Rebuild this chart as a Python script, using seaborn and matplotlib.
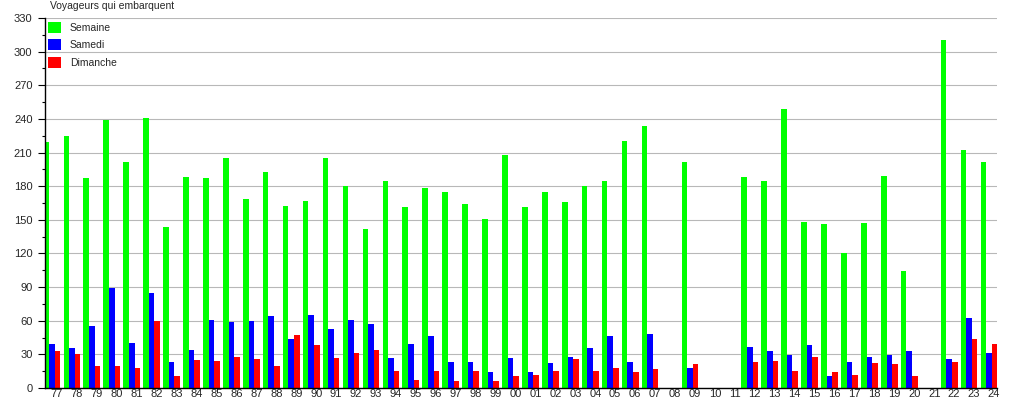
import matplotlib
matplotlib.use("Agg")
import matplotlib.pyplot as plt
import matplotlib.transforms as mtransforms
import numpy as np
import pandas as pd
import seaborn as sns

annees = ['77', '78', '79', '80', '81', '82', '83', '84', '85', '86', '87', '88',
          '89', '90', '91', '92', '93', '94', '95', '96', '97', '98', '99', '00',
          '01', '02', '03', '04', '05', '06', '07', '08', '09', '10', '11', '12',
          '13', '14', '15', '16', '17', '18', '19', '20', '21', '22', '23', '24']

semaine = [219, 225, 187, 239, 202, 241, 144, 188, 187, 205, 169, 193,
           162, 167, 205, 180, 142, 185, 161, 178, 175, 164, 151, 208,
           161, 175, 166, 180, 185, 220, 234, None, 202, None, None, 188,
           185, 249, 148, 146, 120, 147, 189, 104, None, 310, 212, 202]

samedi = [39, 36, 55, 89, 40, 85, 23, 34, 61, 59, 60, 64,
          44, 65, 53, 61, 57, 27, 39, 46, 23, 23, 14, 27,
          14, 22, 28, 36, 46, 23, 48, None, 18, None, None, 37,
          33, 29, 38, 11, 23, 28, 29, 33, None, 26, 62, 31]

dimanche = [33, 30, 20, 20, 18, 60, 11, 25, 24, 28, 26, 20,
            47, 38, 27, 31, 34, 15, 7, 15, 6, 15, 6, 11,
            12, 15, 26, 15, 18, 14, 17, None, 21, None, None, 23,
            24, 15, 28, 14, 12, 22, 21, 11, None, 23, 44, 39]

series = ['Semaine', 'Samedi', 'Dimanche']
couleurs = ['#00ff00', '#0000ff', '#ff0000']

rows = []
for nom, valeurs in zip(series, [semaine, samedi, dimanche]):
    for a, v in zip(annees, valeurs):
        if v is not None:
            rows.append({'annee': a, 'voyageurs': v, 'type': nom})
df = pd.DataFrame(rows)

sns.set_style("white")
plt.rcParams['font.family'] = ['Liberation Sans', 'DejaVu Sans']

fig = plt.figure(figsize=(10.15, 4.0), dpi=100)
W, H = 1015, 400
ax = fig.add_axes([45 / W, 12 / H, 952 / W, 370 / H])

sns.barplot(data=df, x='annee', y='voyageurs', hue='type', order=annees,
            hue_order=series, palette=couleurs, saturation=1, width=0.84,
            errorbar=None, linewidth=0, ax=ax)

ax.set_xlim(-0.35, 47.4)
ax.set_ylim(0, 330)
ax.set_yticks(np.arange(0, 331, 30))
ax.set_yticks(np.arange(15, 330, 30), minor=True)
ax.yaxis.grid(True, color='#b8b8b8', linewidth=0.8)
ax.set_axisbelow(True)
ax.set_xlabel('')
ax.set_ylabel('')

for s in ['top', 'right']:
    ax.spines[s].set_visible(False)
for s in ['left', 'bottom']:
    ax.spines[s].set_color('black')
    ax.spines[s].set_linewidth(1.0)

ax.tick_params(axis='y', which='major', length=5, width=0.8, color='black',
               labelsize=8, pad=4, left=True)
ax.tick_params(axis='y', which='minor', length=2.5, width=0.8, color='black', left=True)
ax.tick_params(axis='x', length=0, labelsize=8, pad=1)

# labels sit a little right of the bar groups in the original
offset = mtransforms.ScaledTranslation(0.05, 0, fig.dpi_scale_trans)
for lab in ax.get_xticklabels():
    lab.set_transform(lab.get_transform() + offset)

leg = ax.legend(loc='upper left', bbox_to_anchor=(3 / 952, 1 - 4 / 370),
                frameon=False, fontsize=7.5, handlelength=1.25, handleheight=1.25,
                handletextpad=0.85, labelspacing=0.6, borderpad=0, borderaxespad=0)

fig.text(50 / W, 1 - 1 / H, 'Voyageurs qui embarquent', fontsize=7.5,
         ha='left', va='top')

fig.savefig('out.png', dpi=100)
